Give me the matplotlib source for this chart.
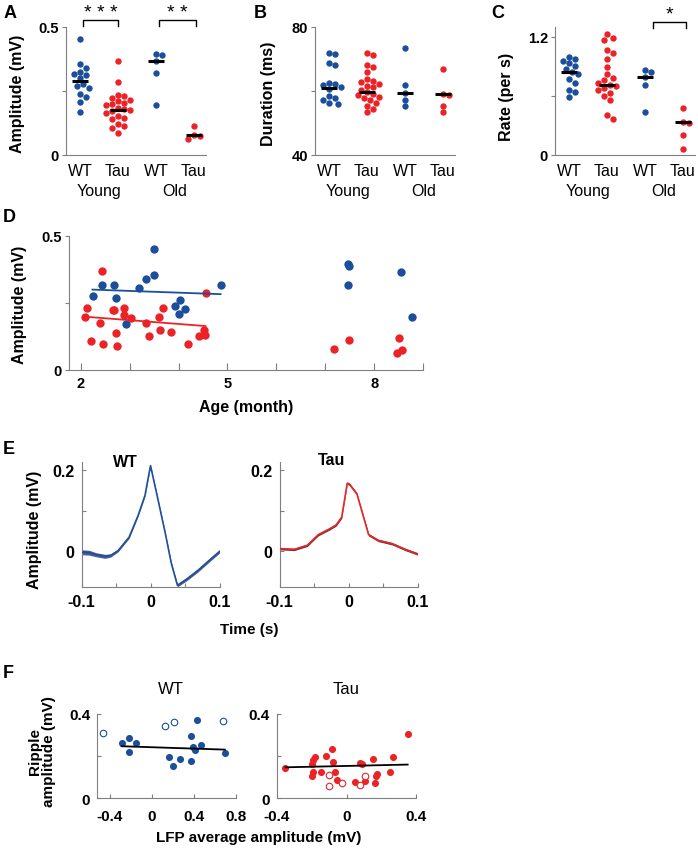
import numpy as np
import matplotlib
matplotlib.use('Agg')
import matplotlib.pyplot as plt
from matplotlib.transforms import blended_transform_factory

plt.rcParams['font.family'] = ['Liberation Sans', 'DejaVu Sans']
plt.rcParams['font.weight'] = 'bold'
NARROW = ['Liberation Sans Narrow', 'Liberation Sans', 'DejaVu Sans']

# ---------------- data ----------------
groups = ['WT', 'Tau', 'WT', 'Tau']
ages = ['Young', 'Old']

amp_wt_young = [0.454, 0.354, 0.340, 0.324, 0.317, 0.311, 0.300, 0.278, 0.271, 0.262, 0.238, 0.227, 0.208, 0.169]
amp_tau_young = [0.368, 0.287, 0.234, 0.230, 0.224, 0.216, 0.210, 0.205, 0.199, 0.194, 0.185, 0.180,
                 0.176, 0.170, 0.165, 0.152, 0.145, 0.139, 0.123, 0.115, 0.106, 0.086]
amp_wt_old = [0.394, 0.390, 0.366, 0.321, 0.196]
amp_tau_old = [0.115, 0.079, 0.075, 0.062]
amp_center = [0.291, 0.176, 0.366, 0.078]

dur_wt_young = [72.0, 71.6, 68.8, 68.1, 62.6, 62.2, 61.9, 61.2, 60.7, 58.5, 57.8, 57.3, 56.4, 56.0]
dur_tau_young = [72.0, 71.4, 68.1, 67.6, 65.8, 63.9, 63.1, 62.8, 62.2, 61.6, 61.2, 60.4, 59.6, 59.0,
                 58.7, 58.2, 57.9, 57.2, 56.3, 55.3, 54.4, 53.3]
dur_wt_old = [73.4, 62.0, 59.4, 57.3, 55.2]
dur_tau_old = [66.8, 59.2, 58.8, 55.2, 53.3]
dur_center = [61.0, 59.8, 59.5, 59.0]

rate_wt_young = [1.00, 0.97, 0.95, 0.93, 0.90, 0.87, 0.84, 0.82, 0.77, 0.73, 0.66, 0.64, 0.59]
rate_tau_young = [1.23, 1.19, 1.17, 1.07, 1.04, 0.98, 0.89, 0.82, 0.78, 0.76, 0.73, 0.71, 0.70,
                  0.68, 0.66, 0.63, 0.60, 0.56, 0.41, 0.37]
rate_wt_old = [0.86, 0.84, 0.79, 0.71, 0.44]
rate_tau_old = [0.48, 0.34, 0.33, 0.20, 0.06]
rate_center = [0.84, 0.71, 0.79, 0.34]

d_wt_month = [2.25, 2.44, 2.69, 2.72, 2.92, 3.19, 3.33, 3.49, 3.49, 3.93, 4.00, 4.02, 4.13, 4.86,
              7.46, 7.49, 7.46, 8.56, 8.77]
d_wt_amp = [0.277, 0.319, 0.319, 0.268, 0.173, 0.306, 0.340, 0.453, 0.355, 0.239, 0.208, 0.262, 0.229,
            0.319, 0.394, 0.388, 0.319, 0.365, 0.198]
d_tau_month = [2.44, 2.13, 2.08, 2.20, 2.39, 2.46, 2.66, 2.69, 2.72, 2.74, 2.88, 2.88, 3.03, 3.33, 3.39,
               3.61, 3.62, 3.69, 3.85, 4.20, 4.41, 4.52, 4.55, 4.56, 7.17, 7.49, 8.50, 8.46, 8.57]
d_tau_amp = [0.368, 0.230, 0.199, 0.107, 0.176, 0.098, 0.224, 0.224, 0.139, 0.088, 0.233, 0.205, 0.193,
             0.176, 0.128, 0.199, 0.151, 0.233, 0.142, 0.098, 0.126, 0.151, 0.130, 0.287, 0.078, 0.113,
             0.120, 0.063, 0.073]
d_wt_fit_x = [2.24, 4.86]
d_wt_fit_y = [0.300, 0.283]
d_tau_fit_x = [2.08, 4.55]
d_tau_fit_y = [0.199, 0.164]

e_wt_t = [-0.100, -0.089, -0.079, -0.066, -0.058, -0.047, -0.031, -0.018, -0.008, 0.000, 0.008, 0.021,
          0.030, 0.039, 0.053, 0.069, 0.085, 0.100]
e_wt_v = [-0.002, -0.003, -0.008, -0.012, -0.010, 0.002, 0.035, 0.088, 0.137, 0.210, 0.149, 0.048,
          -0.028, -0.083, -0.067, -0.046, -0.022, 0.000]
e_wt_sem = [0.006, 0.006, 0.005, 0.005, 0.004, 0.003, 0.003, 0.002, 0.002, 0.002, 0.002, 0.002,
            0.003, 0.004, 0.004, 0.004, 0.004, 0.004]
e_tau_t = [-0.100, -0.079, -0.060, -0.044, -0.028, -0.018, -0.010, -0.002, 0.001, 0.012, 0.021, 0.029,
           0.043, 0.063, 0.082, 0.100]
e_tau_v = [0.007, 0.005, 0.015, 0.041, 0.055, 0.065, 0.084, 0.167, 0.165, 0.141, 0.088, 0.041,
           0.027, 0.019, 0.005, -0.006]
e_tau_sem = [0.003] * 16

f_wt_x = [-0.288, -0.218, -0.218, -0.154, 0.160, 0.200, 0.269, 0.368, 0.368, 0.390, 0.406, 0.426, 0.470, 0.694]
f_wt_y = [0.263, 0.287, 0.220, 0.263, 0.196, 0.153, 0.185, 0.175, 0.296, 0.244, 0.228, 0.371, 0.255, 0.215]
f_wt_open_x = [-0.464, 0.128, 0.214, 0.672]
f_wt_open_y = [0.308, 0.344, 0.363, 0.368]
f_wt_fit_x = [-0.288, 0.694]
f_wt_fit_y = [0.247, 0.231]
f_tau_x = [-0.352, -0.200, -0.190, -0.180, -0.198, -0.190, -0.146, -0.118, -0.083, -0.078, -0.068, -0.054,
           0.049, 0.078, 0.087, 0.105, 0.150, 0.169, 0.173, 0.165, 0.250, 0.266, 0.352]
f_tau_y = [0.145, 0.164, 0.180, 0.196, 0.108, 0.124, 0.127, 0.201, 0.236, 0.172, 0.127, 0.088,
           0.076, 0.167, 0.164, 0.080, 0.188, 0.105, 0.116, 0.073, 0.127, 0.196, 0.305]
f_tau_open_x = [-0.103, -0.099, -0.025, 0.076, 0.105]
f_tau_open_y = [0.112, 0.057, 0.073, 0.065, 0.108]
f_tau_fit_x = [-0.352, 0.352]
f_tau_fit_y = [0.147, 0.160]

# ---------------- style ----------------
W, H = 698, 853
fig = plt.figure(figsize=(W / 100, H / 100), dpi=100)
BLUE = '#1b4f9c'
RED = '#ec2227'
SPINE = '#7f7f7f'
TICKFS = 10.5


def add_ax(l, t, r, b):
    ax = fig.add_axes([l / W, 1 - b / H, (r - l) / W, (b - t) / H])
    ax.spines['top'].set_visible(False)
    ax.spines['right'].set_visible(False)
    for s in ('left', 'bottom'):
        ax.spines[s].set_color(SPINE)
        ax.spines[s].set_linewidth(0.8)
    ax.tick_params(colors=SPINE, labelcolor='black', width=0.8, length=3, labelsize=TICKFS, pad=2)
    ax.patch.set_alpha(0)
    return ax


def ftext(x, y, s, **kw):
    kw.setdefault('ha', 'center')
    kw.setdefault('va', 'center')
    fig.text(x / W, 1 - y / H, s, **kw)


def swarm(vals, pxy, d):
    vals = np.asarray(vals, float)
    ys = vals * pxy
    order = np.argsort(-vals)
    cands = [0.0]
    for k in range(1, 30):
        cands += [k * d * 0.5, -k * d * 0.5]
    placed = []
    offs = np.zeros(len(vals))
    for i in order:
        for c in cands:
            if all((c - px) ** 2 + (ys[i] - py) ** 2 >= d * d for px, py in placed):
                break
        offs[i] = c
        placed.append((c, ys[i]))
    return offs


def strip_panel(box, data, centers, ylim, yticks, ylabels):
    ax = add_ax(*box)
    xlim = (0.632, 4.316)
    ax.set_xlim(*xlim)
    ax.set_ylim(*ylim)
    pxx = (box[2] - box[0]) / (xlim[1] - xlim[0])
    pxy = (box[3] - box[1]) / (ylim[1] - ylim[0])
    cols = [BLUE, RED, BLUE, RED]
    for i, (vals, col) in enumerate(zip(data, cols)):
        offs = swarm(vals, pxy, 6.0) / pxx
        ax.scatter(i + 1 + offs, vals, s=21, color=col, linewidths=0, zorder=2, clip_on=False)
        ax.plot([i + 1 - 0.22, i + 1 + 0.22], [centers[i]] * 2, color='black', lw=2.2, zorder=3,
                solid_capstyle='butt')
    ax.set_xticks([])
    ax.set_yticks(yticks)
    ax.set_yticklabels(ylabels)
    tr = blended_transform_factory(ax.transData, ax.transAxes)
    hpx = box[3] - box[1]
    for i, g in enumerate(groups):
        ax.text(i + 1, -(172 - box[3]) / hpx, g, transform=tr,
                ha='center', va='center', fontsize=11.5, fontweight='normal')
    for i, a in enumerate(ages):
        ax.text(2 * i + 1.5, -(192 - box[3]) / hpx, a, transform=tr,
                ha='center', va='center', fontsize=11.5, fontweight='normal')
    return ax


def bracket(ax, x1, x2, ytop, ybot, stars, ystar):
    ax.plot([x1, x1, x2, x2], [ybot, ytop, ytop, ybot], color='black', lw=1.0, clip_on=False)
    ax.text((x1 + x2) / 2, ystar, stars, ha='center', va='center', fontsize=14, fontweight='normal')


# ---------------- A ----------------
axA = strip_panel((66, 28, 206, 156), [amp_wt_young, amp_tau_young, amp_wt_old, amp_tau_old], amp_center,
                  (0, 0.5), [0, 0.25, 0.5], ['0', '', '0.5'])
bracket(axA, 1.08, 2.0, 0.528, 0.505, '* * *', 0.555)
bracket(axA, 3.08, 4.05, 0.528, 0.505, '* *', 0.555)

# ---------------- B ----------------
axB = strip_panel((315, 28, 455, 156), [dur_wt_young, dur_tau_young, dur_wt_old, dur_tau_old], dur_center,
                  (40, 80), [40, 60, 80], ['40', '', '80'])

# ---------------- C ----------------
axC = strip_panel((555, 28, 695, 156), [rate_wt_young, rate_tau_young, rate_wt_old, rate_tau_old],
                  rate_center, (0, 1.3), [0, 0.6, 1.2], ['0', '', '1.2'])
bracket(axC, 3.2, 4.08, 1.35, 1.29, '*', 1.43)

ftext(18, 94, 'Amplitude (mV)', rotation=90, fontsize=11.5)
ftext(268, 94, 'Duration (ms)', rotation=90, fontsize=11.5)
ftext(506, 97, 'Rate (per s)', rotation=90, fontsize=11.5)

# ---------------- D ----------------
axD = add_ax(69, 237, 423, 371)
axD.set_xlim(1.76, 9)
axD.set_ylim(0, 0.5)
axD.scatter(d_wt_month, d_wt_amp, s=36, color=BLUE, linewidths=0, zorder=2)
axD.scatter(d_tau_month, d_tau_amp, s=36, color=RED, linewidths=0, zorder=2)
axD.plot(d_wt_fit_x, d_wt_fit_y, color=BLUE, lw=1.3, zorder=3)
axD.plot(d_tau_fit_x, d_tau_fit_y, color=RED, lw=1.3, zorder=3)
axD.set_xticks(range(2, 10))
axD.set_xticklabels(['2', '', '', '5', '', '', '8', ''])
axD.set_yticks([0, 0.25, 0.5])
axD.set_yticklabels(['0', '', '0.5'])
axD.tick_params(axis='x', direction='in', length=5, pad=4)
ftext(20, 305, 'Amplitude (mV)', rotation=90, fontsize=11.5)
ftext(246, 408, 'Age (month)', fontsize=11.5)

# ---------------- E ----------------
for box, t, v, sem, col, band, title, tpos in [
        ((81.5, 463, 219.5, 588), e_wt_t, e_wt_v, e_wt_sem, '#1f4f9a', '#3b4f80', 'WT', (125, 463)),
        ((279.6, 463, 417.6, 588), e_tau_t, e_tau_v, e_tau_sem, '#e8262a', '#5a1e1e', 'Tau', (332, 461))]:
    ax = add_ax(*box)
    ax.set_xlim(-0.1, 0.1)
    ax.set_ylim(-0.087, 0.219)
    t = np.array(t); v = np.array(v); sem = np.array(sem)
    ax.fill_between(t, v - sem, v + sem, color=band, lw=0, alpha=0.9, zorder=2)
    ax.plot(t, v, color=col, lw=1.2, zorder=3)
    ax.set_xticks([-0.1, -0.05, 0, 0.05, 0.1])
    ax.set_xticklabels(['-0.1', '', '0', '', '0.1'], family=NARROW)
    ax.set_yticks([0, 0.1, 0.2])
    ax.set_yticklabels(['0', '', '0.2'], family=NARROW)
    ax.tick_params(direction='in', length=3, labelsize=11.5, pad=5)
    ftext(*tpos, title, fontsize=11.5, family=NARROW)
ftext(34, 530, 'Amplitude (mV)', rotation=90, fontsize=11.5)
ftext(249, 630, 'Time (s)', fontsize=11, family=NARROW)

# ---------------- F ----------------
for box, xlim, xt, xs, ys, oxs, oys, fx, fy, col, title, tpos in [
        ((97.3, 715, 236, 799.3), (-0.52, 0.8), [-0.4, 0, 0.4, 0.8], f_wt_x, f_wt_y, f_wt_open_x, f_wt_open_y,
         f_wt_fit_x, f_wt_fit_y, BLUE, 'WT', (171, 690)),
        ((277, 715, 416, 799.3), (-0.4, 0.4), [-0.4, 0, 0.4], f_tau_x, f_tau_y, f_tau_open_x, f_tau_open_y,
         f_tau_fit_x, f_tau_fit_y, RED, 'Tau', (346, 690))]:
    ax = add_ax(*box)
    ax.set_xlim(*xlim)
    ax.set_ylim(0, 0.4)
    ax.scatter(xs, ys, s=26, color=col, linewidths=0, zorder=2, clip_on=False)
    ax.scatter(oxs, oys, s=22, facecolors='white', edgecolors=col, linewidths=0.8, zorder=2, clip_on=False)
    ax.plot(fx, fy, color='black', lw=1.3, zorder=3)
    ax.set_xticks(xt)
    ax.set_xticklabels([('%g' % x) for x in xt], family=NARROW)
    ax.set_yticks([0, 0.2, 0.4])
    ax.set_yticklabels(['0', '', '0.4'], family=NARROW)
    ax.tick_params(axis='y', direction='in', length=3, labelsize=11, pad=5)
    ax.tick_params(axis='x', direction='in', length=3, labelsize=11, pad=8)
    ftext(*tpos, title, fontsize=12, fontweight='normal')
ftext(42, 752, 'Ripple\namplitude (mV)', rotation=90, fontsize=11, multialignment='center', linespacing=1.0)
ftext(259, 838, 'LFP average amplitude (mV)', fontsize=11)

# ---------------- panel letters ----------------
for s, x, y in [('A', 10, 13), ('B', 260, 13), ('C', 498, 13), ('D', 9, 218), ('E', 9, 450), ('F', 8, 674)]:
    ftext(x, y, s, fontsize=13)

fig.savefig('out.png', dpi=100)
